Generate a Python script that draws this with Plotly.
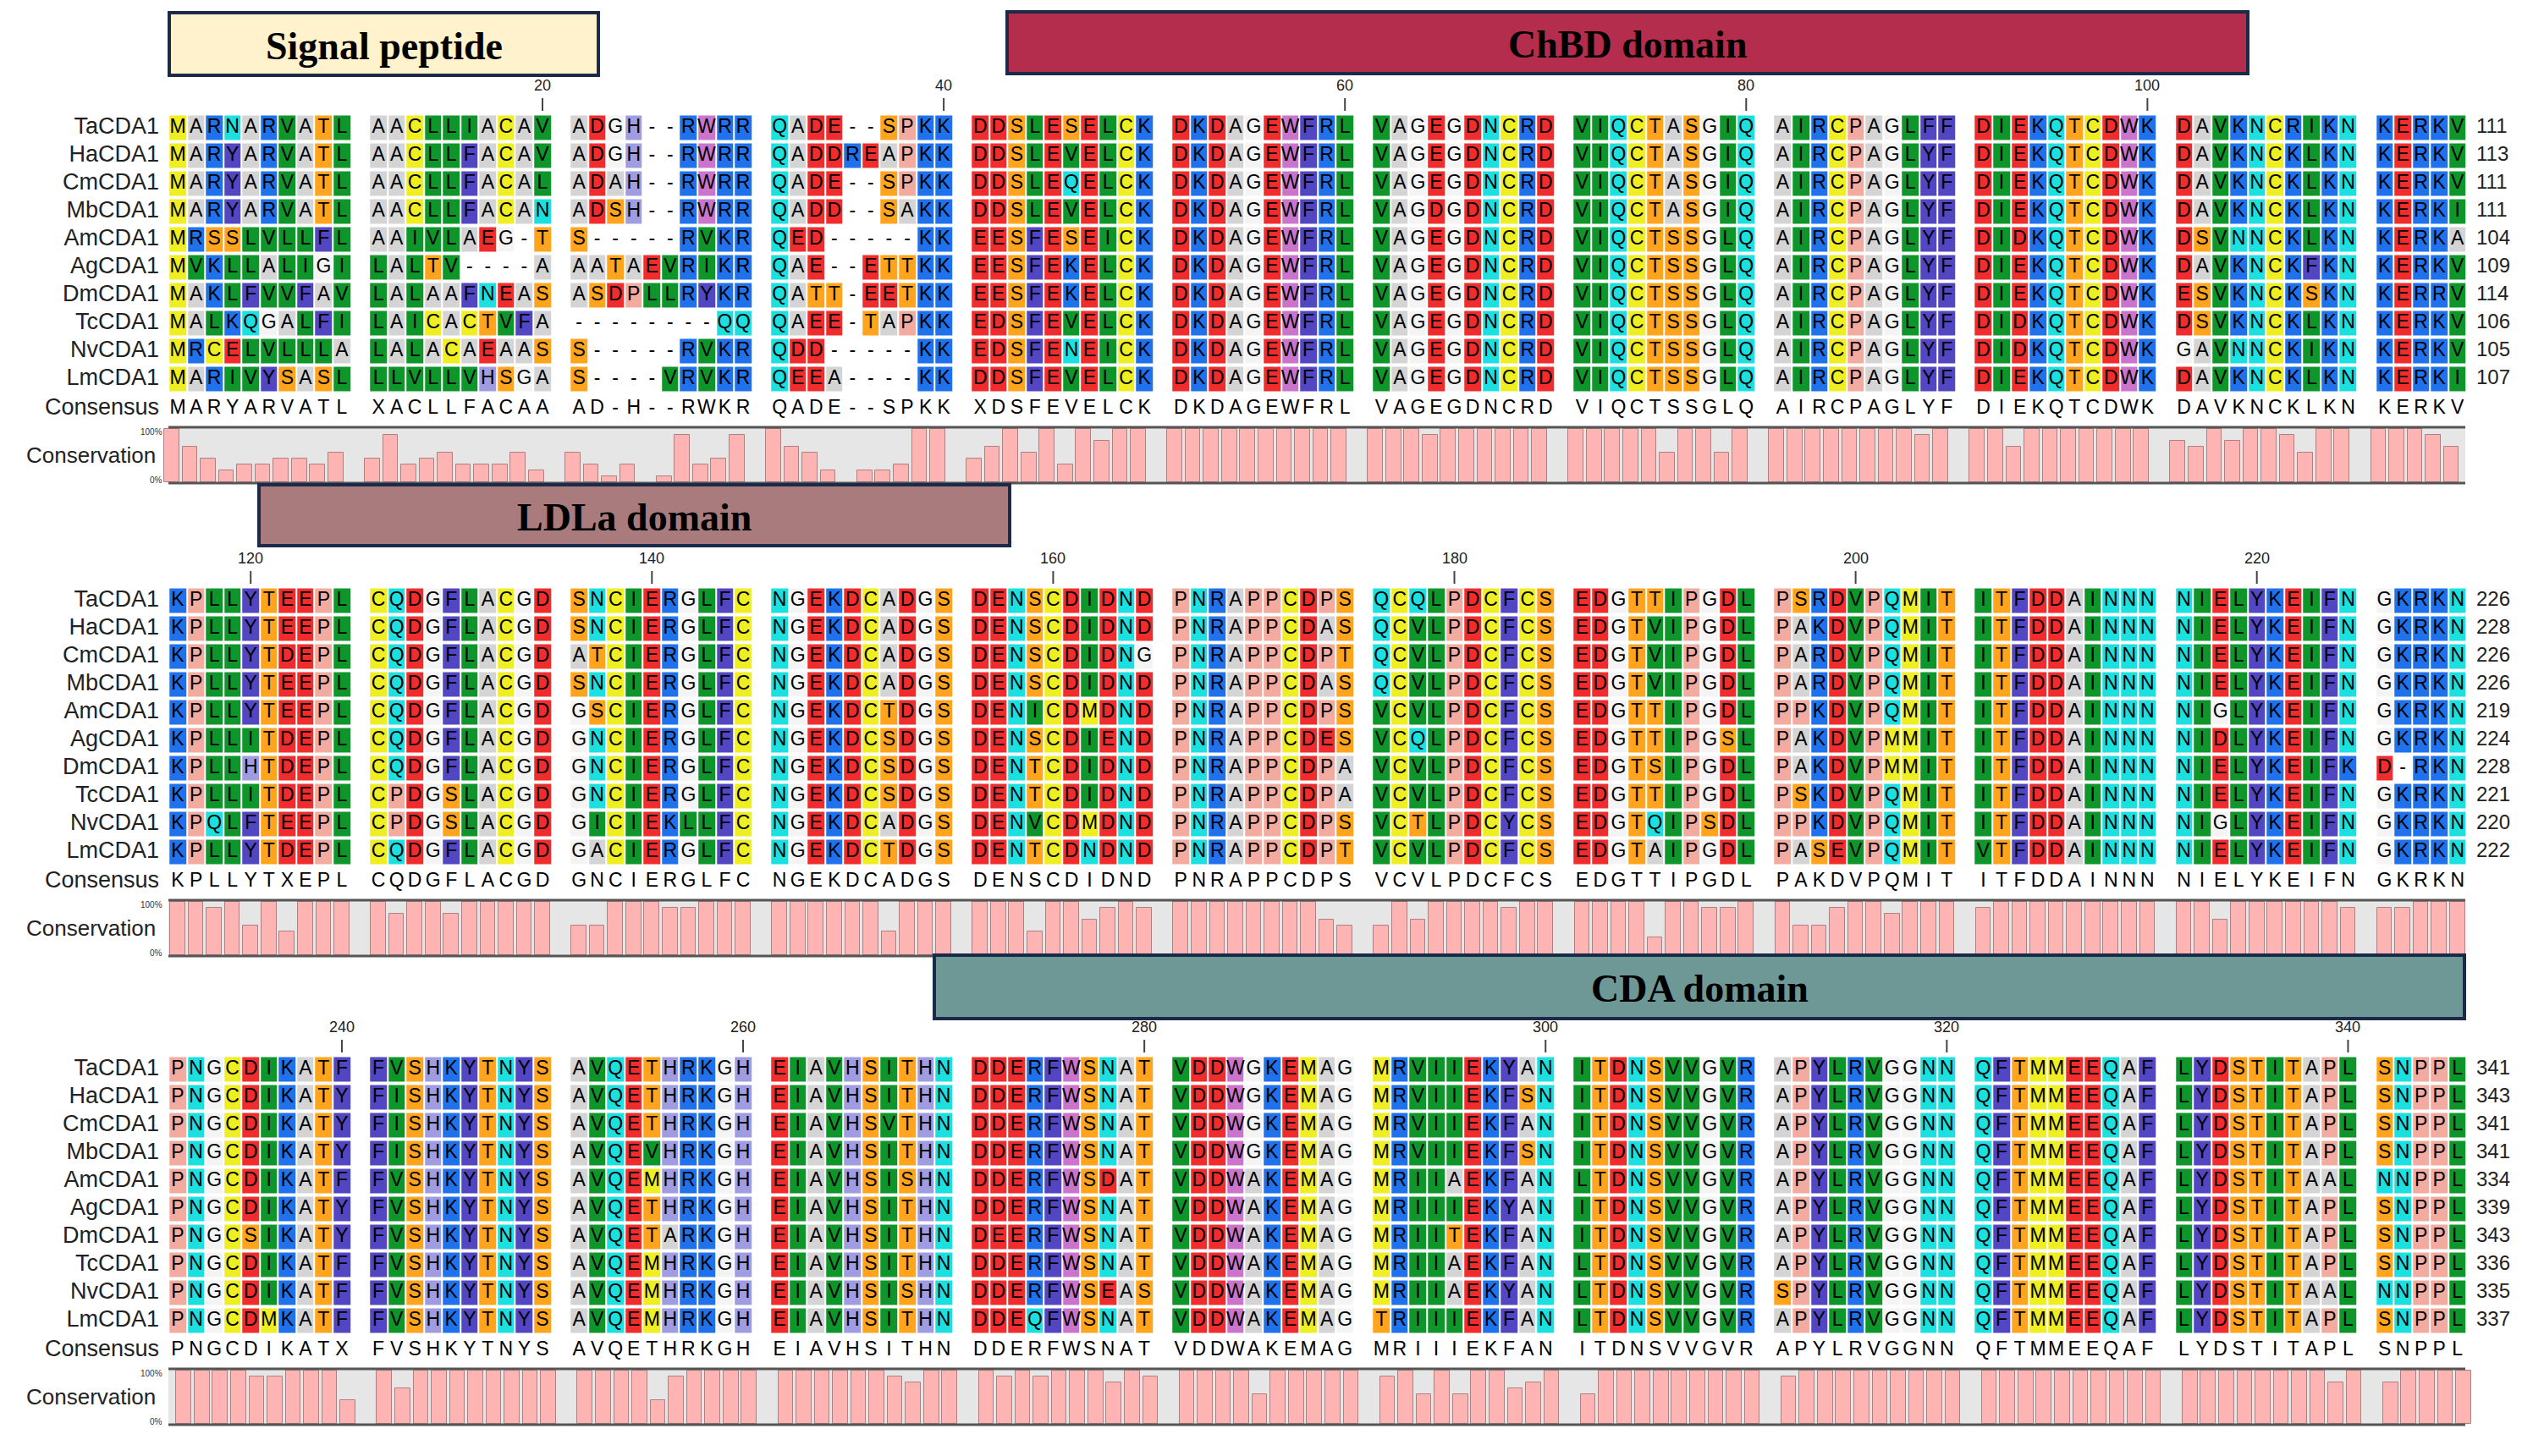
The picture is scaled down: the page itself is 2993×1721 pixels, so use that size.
import plotly.graph_objects as go

names = ['TaCDA1', 'HaCDA1', 'CmCDA1', 'MbCDA1', 'AmCDA1', 'AgCDA1', 'DmCDA1', 'TcCDA1', 'NvCDA1', 'LmCDA1']

block1 = [
    'MARNARVATL AACLLIACAV ADGH--RWRR QADE--SPKK DDSLESELCK DKDAGEWFRL VAGEGDNCRD VIQCTASGIQ AIRCPAGLFF DIEKQTCDWK DAVKNCRIKN KERKV',
    'MARYARVATL AACLLFACAV ADGH--RWRR QADDREAPKK DDSLEVELCK DKDAGEWFRL VAGEGDNCRD VIQCTASGIQ AIRCPAGLYF DIEKQTCDWK DAVKNCKLKN KERKV',
    'MARYARVATL AACLLFACAL ADAH--RWRR QADE--SPKK DDSLEQELCK DKDAGEWFRL VAGEGDNCRD VIQCTASGIQ AIRCPAGLYF DIEKQTCDWK DAVKNCKLKN KERKV',
    'MARYARVATL AACLLFACAN ADSH--RWRR QADD--SAKK DDSLEVELCK DKDAGEWFRL VAGDGDNCRD VIQCTASGIQ AIRCPAGLYF DIEKQTCDWK DAVKNCKLKN KERKI',
    'MRSSLVLLFL AAIVLAEG-T S-----RVKR QED-----KK EESFESEICK DKDAGEWFRL VAGEGDNCRD VIQCTSSGLQ AIRCPAGLYF DIDKQTCDWK DSVNNCKLKN KERKA',
    'MVKLLALIGI LALTV----A AATAEVRIKR QAE--ETTKK EESFEKELCK DKDAGEWFRL VAGEGDNCRD VIQCTSSGLQ AIRCPAGLYF DIEKQTCDWK DAVKNCKFKN KERKV',
    'MAKLFVVFAV LALAAFNEAS ASDPLLRYKR QATT-EETKK EESFEKELCK DKDAGEWFRL VAGEGDNCRD VIQCTSSGLQ AIRCPAGLYF DIEKQTCDWK ESVKNCKSKN KERRV',
    'MALKQGALFI LAICACTVFA --------QQ QAEE-TAPKK EDSFEVELCK DKDAGEWFRL VAGEGDNCRD VIQCTSSGLQ AIRCPAGLYF DIDKQTCDWK DSVKNCKLKN KERKV',
    'MRCELVLLLA LALACAEAAS S-----RVKR QDD-----KK EDSFENEICK DKDAGEWFRL VAGEGDNCRD VIQCTSSGLQ AIRCPAGLYF DIDKQTCDWK GAVNNCKIKN KERKV',
    'MARIVYSASL LLVLLVHSGA S----VRVKR QEEA----KK DDSFEVELCK DKDAGEWFRL VAGEGDNCRD VIQCTSSGLQ AIRCPAGLYF DIEKQTCDWK DAVKNCKLKN KERKI',
]
consensus1 = 'MARYARVATL XACLLFACAA AD-H--RWKR QADE--SPKK XDSFEVELCK DKDAGEWFRL VAGEGDNCRD VIQCTSSGLQ AIRCPAGLYF DIEKQTCDWK DAVKNCKLKN KERKV'
ends1 = [111, 113, 111, 111, 104, 109, 114, 106, 105, 107]

block2 = [
    'KPLLYTEEPL CQDGFLACGD SNCIERGLFC NGEKDCADGS DENSCDIDND PNRAPPCDPS QCQLPDCFCS EDGTTIPGDL PSRDVPQMIT ITFDDAINNN NIELYKEIFN GKRKN',
    'KPLLYTEEPL CQDGFLACGD SNCIERGLFC NGEKDCADGS DENSCDIDND PNRAPPCDAS QCVLPDCFCS EDGTVIPGDL PAKDVPQMIT ITFDDAINNN NIELYKEIFN GKRKN',
    'KPLLYTDEPL CQDGFLACGD ATCIERGLFC NGEKDCADGS DENSCDIDNG PNRAPPCDPT QCVLPDCFCS EDGTVIPGDL PARDVPQMIT ITFDDAINNN NIELYKEIFN GKRKN',
    'KPLLYTEEPL CQDGFLACGD SNCIERGLFC NGEKDCADGS DENSCDIDND PNRAPPCDAS QCVLPDCFCS EDGTVIPGDL PARDVPQMIT ITFDDAINNN NIELYKEIFN GKRKN',
    'KPLLYTEEPL CQDGFLACGD GSCIERGLFC NGEKDCTDGS DENICDMDND PNRAPPCDPS VCVLPDCFCS EDGTTIPGDL PPKDVPQMIT ITFDDAINNN NIGLYKEIFN GKRKN',
    'KPLLITDEPL CQDGFLACGD GNCIERGLFC NGEKDCSDGS DENSCDIEND PNRAPPCDES VCQLPDCFCS EDGTTIPGSL PAKDVPMMIT ITFDDAINNN NIDLYKEIFN GKRKN',
    'KPLLHTDEPL CQDGFLACGD GNCIERGLFC NGEKDCSDGS DENTCDIDND PNRAPPCDPA VCVLPDCFCS EDGTSIPGDL PAKDVPMMIT ITFDDAINNN NIELYKEIFK D-RKN',
    'KPLLITDEPL CPDGSLACGD GNCIERGLFC NGEKDCSDGS DENTCDIDND PNRAPPCDPA VCVLPDCFCS EDGTTIPGDL PSKDVPQMIT ITFDDAINNN NIELYKEIFN GKRKN',
    'KPQLFTEEPL CPDGSLACGD GICIEKLLFC NGEKDCADGS DENVCDMDND PNRAPPCDPS VCTLPDCYCS EDGTQIPSDL PPKDVPQMIT ITFDDAINNN NIGLYKEIFN GKRKN',
    'KPLLYTDEPL CQDGFLACGD GACIERGLFC NGEKDCTDGS DENTCDNDND PNRAPPCDPT VCVLPDCFCS EDGTAIPGDL PASEVPQMIT VTFDDAINNN NIELYKEIFN GKRKN',
]
consensus2 = 'KPLLYTXEPL CQDGFLACGD GNCIERGLFC NGEKDCADGS DENSCDIDND PNRAPPCDPS VCVLPDCFCS EDGTTIPGDL PAKDVPQMIT ITFDDAINNN NIELYKEIFN GKRKN'
ends2 = [226, 228, 226, 226, 219, 224, 228, 221, 220, 222]

block3 = [
    'PNGCDIKATF FVSHKYTNYS AVQETHRKGH EIAVHSITHN DDERFWSNAT VDDWGKEMAG MRVIIEKYAN ITDNSVVGVR APYLRVGGNN QFTMMEEQAF LYDSTITAPL SNPPL',
    'PNGCDIKATY FISHKYTNYS AVQETHRKGH EIAVHSITHN DDERFWSNAT VDDWGKEMAG MRVIIEKFSN ITDNSVVGVR APYLRVGGNN QFTMMEEQAF LYDSTITAPL SNPPL',
    'PNGCDIKATY FISHKYTNYS AVQETHRKGH EIAVHSVTHN DDERFWSNAT VDDWGKEMAG MRVIIEKFAN ITDNSVVGVR APYLRVGGNN QFTMMEEQAF LYDSTITAPL SNPPL',
    'PNGCDIKATY FISHKYTNYS AVQEVHRKGH EIAVHSITHN DDERFWSNAT VDDWGKEMAG MRVIIEKFSN ITDNSVVGVR APYLRVGGNN QFTMMEEQAF LYDSTITAPL SNPPL',
    'PNGCDIKATF FVSHKYTNYS AVQEMHRKGH EIAVHSISHN DDERFWSDAT VDDWAKEMAG MRIIAEKFAN LTDNSVVGVR APYLRVGGNN QFTMMEEQAF LYDSTITAAL NNPPL',
    'PNGCDIKATY FVSHKYTNYS AVQETHRKGH EIAVHSITHN DDERFWSNAT VDDWAKEMAG MRIIIEKYAN ITDNSVVGVR APYLRVGGNN QFTMMEEQAF LYDSTITAPL SNPPL',
    'PNGCSIKATY FVSHKYTNYS AVQETARKGH EIAVHSITHN DEERFWSNAT VDDWAKEMAG MRIITEKFAN ITDNSVVGVR APYLRVGGNN QFTMMEEQAF LYDSTITAPL SNPPL',
    'PNGCDIKATF FVSHKYTNYS AVQEMHRKGH EIAVHSITHN DDERFWSNAT VDDWAKEMAG MRIIAEKFAN LTDNSVVGVR APYLRVGGNN QFTMMEEQAF LYDSTITAPL SNPPL',
    'PNGCDIKATF FVSHKYTNYS AVQEMHRKGH EIAVHSISHN DDERFWSEAS VDDWAKEMAG MRIIAEKYAN LTDNSVVGVR SPYLRVGGNN QFTMMEEQAF LYDSTITAAL NNPPL',
    'PNGCDMKATF FVSHKYTNYS AVQEMHRKGH EIAVHSITHN DDEQFWSNAT VDDWAKEMAG TRIIIEKFAN LTDNSVVGVR APYLRVGGNN QFTMMEEQAF LYDSTITAPL SNPPL',
]
consensus3 = 'PNGCDIKATX FVSHKYTNYS AVQETHRKGH EIAVHSITHN DDERFWSNAT VDDWAKEMAG MRIIIEKFAN ITDNSVVGVR APYLRVGGNN QFTMMEEQAF LYDSTITAPL SNPPL'
ends3 = [341, 343, 341, 341, 334, 339, 343, 336, 335, 337]

blocks = [(block1, consensus1, ends1, 1), (block2, consensus2, ends2, 116), (block3, consensus3, ends3, 231)]
domains = [('Signal peptide', 192, 699, 7, 81, '#fff2cc'),
           ('ChBD domain', 1182, 2648, 6, 79, '#b42d4d'),
           ('LDLa domain', 298, 1185, 565, 637, '#a97b7d'),
           ('CDA domain', 1096, 2904, 1121, 1196, '#6d9896')]

# residue colour groups
groups = [('DE', '#f02c2c'), ('KR', '#1f72ec'), ('NQ', '#1ce0e0'), ('ST', '#ffa41c'),
          ('A', '#d4d4d4'), ('VIL', '#0f962a'), ('FY', '#5246c2'), ('W', '#cb74cc'),
          ('H', '#a09ce2'), ('P', '#f3aa9f'), ('CM', '#eeee22'), ('G', '#f4f4f4')]
code = {}
for k, (letters, c) in enumerate(groups):
    for ch in letters:
        code[ch] = k
n = len(groups)
cscale = []
for k, (letters, c) in enumerate(groups):
    cscale += [[k / n, c], [(k + 1) / n, c]]

X0 = 202      # centre of first cell
P = 21.55     # cell pitch (separator between groups = one cell)
ROWH = 33.0
BLOCK_Y = [143, 702, 1256]
CONS_DY = 332

fig = go.Figure()
shapes = []
annos = []

for b, (rows, cons, ends, start) in enumerate(blocks):
    y0 = BLOCK_Y[b]
    ncols = len(rows[0])
    xs = [X0 + k * P for k in range(ncols)]
    ys = [y0 + r * ROWH for r in range(len(rows))]
    z = [[code[ch] if ch in code else None for ch in row] for row in rows]
    fig.add_trace(go.Heatmap(x=xs, y=ys, z=z, zmin=0, zmax=n, colorscale=cscale, showscale=False,
                             xgap=2, ygap=4, hoverinfo='skip'))
    tx, ty, tt = [], [], []
    for r, row in enumerate(rows):
        for k, ch in enumerate(row):
            if ch != ' ':
                tx.append(xs[k]); ty.append(ys[r]); tt.append(ch)
    ycons = y0 + CONS_DY
    for k, ch in enumerate(cons):
        if ch != ' ':
            tx.append(xs[k]); ty.append(ycons); tt.append(ch)
    fig.add_trace(go.Scatter(x=tx, y=ty, text=tt, mode='text', textfont=dict(family='Liberation Sans', size=23, color='black'),
                             hoverinfo='skip'))
    # names and end numbers
    fig.add_trace(go.Scatter(x=[180] * 11, y=ys + [ycons], text=names + ['Consensus'], mode='text', textposition='middle left',
                             textfont=dict(family='Liberation Sans', size=27, color='#222'), hoverinfo='skip'))
    fig.add_trace(go.Scatter(x=[2918] * 10, y=ys, text=[str(e) for e in ends], mode='text', textposition='middle right',
                             textfont=dict(family='Liberation Sans', size=24, color='#222'), hoverinfo='skip'))
    # position ticks
    pos = start
    for k, ch in enumerate(cons):
        if ch == ' ':
            continue
        if pos % 20 == 0:
            annos.append(dict(x=xs[k], y=y0 - 50, text=str(pos), showarrow=False, font=dict(family='Liberation Sans', size=18, color='#222')))
            shapes.append(dict(type='line', x0=xs[k], x1=xs[k], y0=y0 - 35, y1=y0 - 20, line=dict(color='#444', width=2)))
        pos += 1
    # conservation
    ctop, cbot = y0 + 354, y0 + 420
    shapes.append(dict(type='rect', x0=191, x1=2905, y0=ctop, y1=cbot, fillcolor='#e6e6e6', line=dict(width=0), layer='below'))
    shapes.append(dict(type='line', x0=191, x1=2905, y0=ctop, y1=ctop, line=dict(color='#555', width=3)))
    shapes.append(dict(type='line', x0=191, x1=2905, y0=cbot, y1=cbot, line=dict(color='#555', width=3)))
    bx, bh = [], []
    for k in range(ncols):
        if cons[k] == ' ':
            continue
        col = [row[k] for row in rows if row[k] != '-']
        if not col:
            continue
        m = max(col.count(c) for c in set(col))
        h = (m - 1) / 9
        if h > 0:
            bx.append(xs[k]); bh.append(-h * (cbot - ctop - 3))
    fig.add_trace(go.Bar(x=bx, y=bh, base=cbot - 1, width=P * 0.82, marker=dict(color='#ffb4b4', line=dict(color='#b08080', width=1)),
                         hoverinfo='skip'))
    annos.append(dict(x=178, y=(ctop + cbot) / 2, text='Conservation', xanchor='right', showarrow=False,
                      font=dict(family='Liberation Sans', size=26, color='#222')))
    annos.append(dict(x=186, y=ctop + 5, text='100%', xanchor='right', showarrow=False, font=dict(family='Liberation Sans', size=10, color='#333')))
    annos.append(dict(x=186, y=cbot - 4, text='0%', xanchor='right', showarrow=False, font=dict(family='Liberation Sans', size=10, color='#333')))

for label, xa, xb, ya, yb, col in domains:
    shapes.append(dict(type='rect', x0=xa, x1=xb, y0=ya, y1=yb, fillcolor=col, line=dict(color='#1c2a4a', width=4)))
    annos.append(dict(x=(xa + xb) / 2, y=(ya + yb) / 2 + 2, text='<b>' + label + '</b>', showarrow=False,
                      font=dict(family='Liberation Serif', size=46, color='black')))

fig.update_layout(width=2993, height=1721, margin=dict(l=0, r=0, t=0, b=0), plot_bgcolor='white', paper_bgcolor='white',
                  showlegend=False, shapes=shapes, annotations=annos, bargap=0,
                  xaxis=dict(range=[0, 2993], visible=False, fixedrange=True),
                  yaxis=dict(range=[1721, 0], visible=False, fixedrange=True))
fig.write_html('out.html')
